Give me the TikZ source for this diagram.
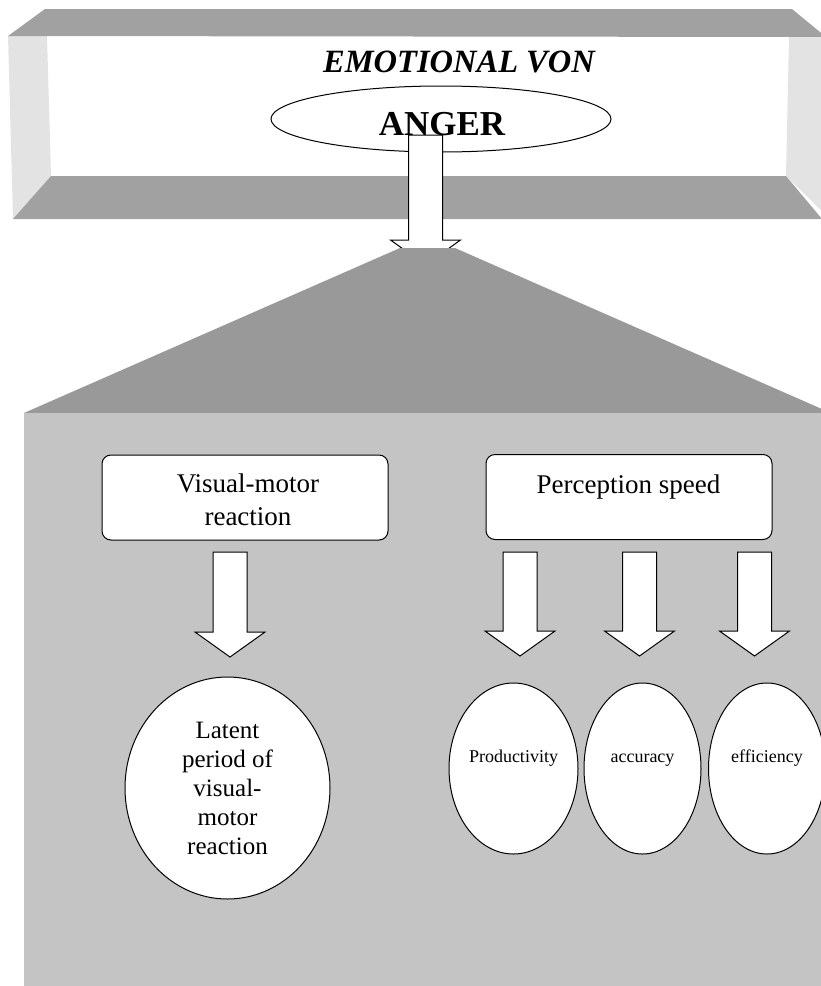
\documentclass[tikz,border=0pt]{standalone}
\usepackage{fontspec}
\setmainfont{Liberation Serif}
\usetikzlibrary{shapes,arrows,arrows.meta}
\usetikzlibrary{calc,positioning}

\definecolor{faceDark}{gray}{0.63}
\definecolor{faceLight}{gray}{0.89}
\definecolor{roofGray}{gray}{0.60}
\definecolor{panelGray}{gray}{0.77}

\newcommand\DOWNARROW[2] {
    \edef\bodyHalf{17pt}
    \edef\headHalf{35pt}
    \edef\headLen{25pt}
    \draw[blockarrow] let \p1=#1, \p2=#2 in
        (\x1-\bodyHalf,\y1) -- (\x1+\bodyHalf,\y1) -- (\x1+\bodyHalf,\y2+\headLen)
        -- (\x1+\headHalf,\y2+\headLen) -- (\x1,\y2) -- (\x1-\headHalf,\y2+\headLen)
        -- (\x1-\bodyHalf,\y2+\headLen) -- cycle;
}

\begin{document}
\begin{tikzpicture}[x=1pt, y=-1pt, every node/.style={inner sep=0pt},
    box/.style={draw, fill=white, rounded corners=9pt, line width=1pt,
        minimum width=286pt, minimum height=85pt},
    oval/.style={draw, fill=white, ellipse, line width=1pt},
    boxtext/.style={font=\fontsize{27}{33}\selectfont, align=center},
    blockarrow/.style={draw, fill=white, line width=1pt, line join=miter}
    ]
    \useasboundingbox (0,0) rectangle (821,986);

    % Draw the open frame.
    \fill[faceLight] (8,36) -- (47,36) -- (51,176) -- (13,219) -- cycle;
    \fill[faceLight] (789,36) -- (830,36) -- (830,219) -- (786,176) -- cycle;
    \fill[faceDark] (8,36) -- (45,9) -- (792,9) -- (826,37) -- cycle;
    \fill[faceDark] (51,176) -- (786,176) -- (822,219) -- (13,219) -- cycle;

    \node[anchor=base, font=\fontsize{32.5}{32.5}\selectfont\bfseries\itshape]
        (title) at (459,72) {EMOTIONAL VON};
    \node[oval, minimum width=340pt, minimum height=66pt] (anger) at (441,119) {};

    % Arrow from anger, tip hidden by the roof.
    \coordinate (anger_tail) at (425.5,135);
    \coordinate (anger_tip) at (425.5,265);
    \DOWNARROW{(anger_tail)}{(anger_tip)}
    \node[anchor=base, font=\fontsize{35}{35}\selectfont\bfseries]
        (anger_text) at (442,135) {ANGER};

    % Roof and panel.
    \fill[roofGray] (400,248) -- (455,248) -- (831,413) -- (24,413) -- cycle;
    \fill[panelGray] (24,413) rectangle (830,990);

    % Two headings.
    \node[box] (vm) at (245,497.5) {};
    \node[boxtext, anchor=north] (vm_text) at (248,473.5) {Visual-motor\\reaction};
    \node[box] (ps) at (629,497) {};
    \node[boxtext, anchor=north] (ps_text) at (628.5,474.5) {Perception speed};

    % Arrows below the headings.
    \coordinate (vm_tail) at (230,552);
    \coordinate (vm_tip) at (230,657);
    \DOWNARROW{(vm_tail)}{(vm_tip)}
    \foreach \px/\k in {520/a, 639.5/b, 754.5/c}
    {
        \coordinate (ps_tail_\k) at (\px,552);
        \coordinate (ps_tip_\k) at (\px,656);
        \DOWNARROW{(ps_tail_\k)}{(ps_tip_\k)}
    }

    % Results.
    \node[oval, minimum width=205pt, minimum height=222pt, align=center,
        font=\fontsize{25}{29}\selectfont] (latent) at (227.5,788)
        {Latent\\period of\\visual-\\motor\\reaction};
    \node[oval, minimum width=129pt, minimum height=171pt] (prod) at (513.5,768.5) {};
    \node[oval, minimum width=117pt, minimum height=171pt] (acc) at (642.5,768.5) {};
    \node[oval, minimum width=117pt, minimum height=171pt] (eff) at (767,768.5) {};
    \foreach \o/\t in {prod/Productivity, acc/accuracy, eff/efficiency}
    {
        \node[anchor=base, font=\fontsize{18}{18}\selectfont]
            (\o_text) at (\o.center |- 0,762) {\t};
    }
\end{tikzpicture}
\end{document}
